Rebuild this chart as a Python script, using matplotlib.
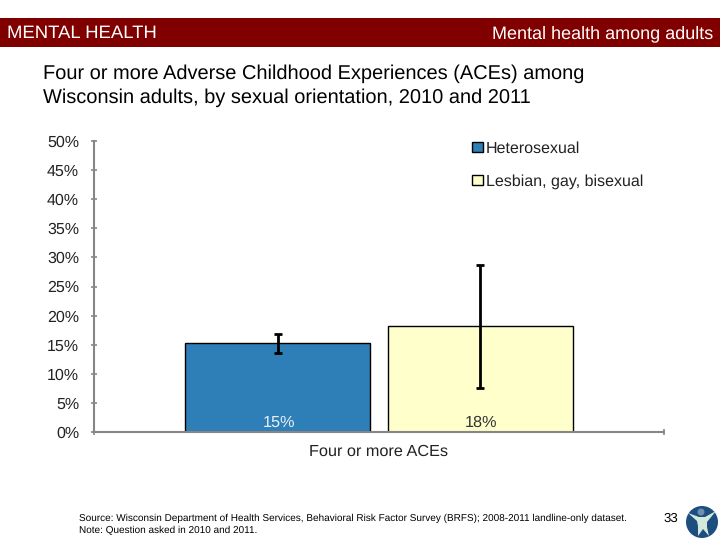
import matplotlib
matplotlib.use('Agg')
import matplotlib.pyplot as plt
from matplotlib.patches import Rectangle, Circle, Polygon

plt.rcParams['font.family'] = ['Liberation Sans', 'DejaVu Sans']
plt.rcParams['text.hinting'] = 'none'

groups = ['Heterosexual', 'Lesbian, gay, bisexual']
values = [15.3, 18.15]
err_low = [13.6, 7.6]
err_high = [16.8, 28.7]
value_labels = ['15%', '18%']
label_colors = ['#e8f0f6', '#333333']
colors = ['#2e7eb8', '#ffffcc']
offsets = [-0.178, 0.178]
yticks = [0, 5, 10, 15, 20, 25, 30, 35, 40, 45, 50]
category = 'Four or more ACEs'

W, H = 720, 540
fig = plt.figure(figsize=(7.2, 5.4), dpi=100)

# header band
fig.add_artist(Rectangle((0, 1-47/H), 1, 29/H, transform=fig.transFigure, color='#800000', lw=0))
fig.text(7/W, 1-33/H, 'MENTAL HEALTH', color='white', fontsize=13.3, va='center', ha='left')
fig.text(713/W, 1-33.5/H, 'Mental health among adults', color='white', fontsize=13, va='center', ha='right')

fig.text(43/W, 1-73.5/H, 'Four or more Adverse Childhood Experiences (ACEs) among',
         fontsize=14.4, va='center', ha='left', color='black')
fig.text(43/W, 1-97.5/H, 'Wisconsin adults, by sexual orientation, 2010 and 2011',
         fontsize=14.4, va='center', ha='left', color='black')

ax = fig.add_axes([94/W, 1-432/H, 570/W, 291/H])
handles = []
for i in range(len(groups)):
    lo = values[i]-err_low[i]
    hi = err_high[i]-values[i]
    b = ax.bar(offsets[i], values[i], width=0.325, color=colors[i], edgecolor='black', linewidth=1,
               yerr=[[lo], [hi]],
               error_kw=dict(ecolor='black', elinewidth=2, capsize=3.2, capthick=2))
    handles.append(b[0])
    ax.annotate(value_labels[i], (offsets[i], 0), xytext=(1, 9), textcoords='offset pixels',
                ha='center', va='center', fontsize=11.7, color=label_colors[i])

ax.set_xlim(-0.5, 0.5)
ax.set_ylim(0, 50)
ax.set_yticks(yticks)
ax.set_yticklabels(['%d%%' % t for t in yticks], fontsize=11.5, color='#222222')
ax.set_xticks([-0.5, 0.5])
ax.set_xticklabels(['', ''])
ax.tick_params(axis='both', direction='inout', length=5, width=1.2, color='#868686')
ax.tick_params(axis='y', pad=8.2)
for s in ['top', 'right']:
    ax.spines[s].set_visible(False)
for s in ['left', 'bottom']:
    ax.spines[s].set_color('#868686')
    ax.spines[s].set_linewidth(1.5)
ax.text(0, -0.069, category, transform=ax.get_xaxis_transform(), ha='center', va='center',
        fontsize=11.7, color='#222222')

ax.legend(handles, groups, loc='upper left', bbox_to_anchor=(378/570, 1.0), frameon=False,
          fontsize=11.55, handlelength=0.66, handleheight=0.66, handletextpad=0.2,
          labelspacing=1.13, borderpad=0, borderaxespad=0, labelcolor='#222222')

fig.text(79/W, 1-518.8/H, 'Source: Wisconsin Department of Health Services, Behavioral Risk Factor Survey (BRFS); 2008-2011 landline-only dataset.',
         fontsize=7.23, va='center', ha='left', color='black')
fig.text(79/W, 1-530.8/H, 'Note: Question asked in 2010 and 2011.',
         fontsize=7.23, va='center', ha='left', color='black')
fig.text(671/W, 1-519/H, '33', fontsize=9.5, va='center', ha='center', color='black')

# logo, drawn in pixel coordinates of the figure
logo = fig.add_axes([684/W, 1-540/H, 36/W, 36/H])
logo.set_xlim(-18, 18)
logo.set_ylim(-18, 18)
logo.axis('off')
logo.add_patch(Circle((0, 0), 16, color='#1c4e80', lw=0))
logo.add_patch(Polygon([(-14, 9), (-3, 5), (3, 5), (14, 11), (5, 0), (5, -5), (7, -14),
                        (1, -7), (-4, -14), (-4, -4), (-5, 1)], color='#d5e8dc', lw=0))
logo.add_patch(Circle((-1, 10), 3.5, color='#6f8fb0', lw=0))

fig.savefig('out.png', dpi=100)
